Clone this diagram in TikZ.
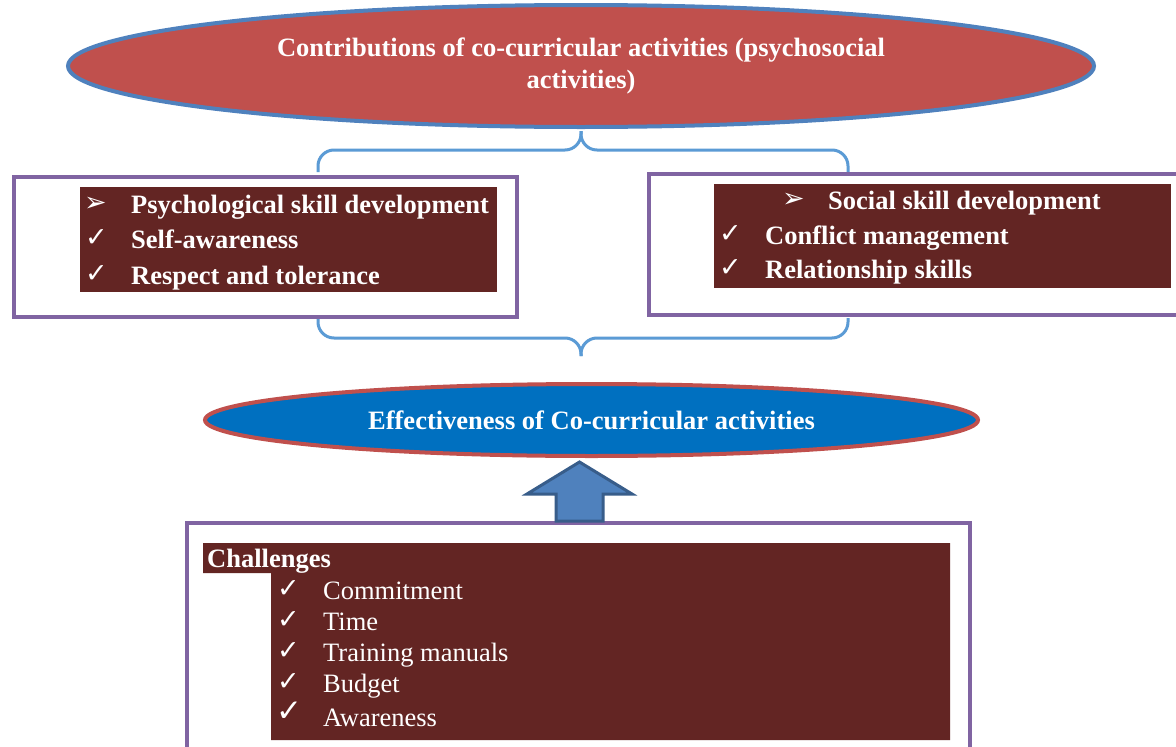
\documentclass[tikz,border=0pt]{standalone}
\usepackage{fontspec}
\setmainfont{Liberation Serif}
\newfontfamily\symfont{DejaVu Sans}
\usetikzlibrary{shapes.geometric}
\definecolor{topfill}{HTML}{C0504D}
\definecolor{topline}{HTML}{4F81BD}
\definecolor{darkred}{HTML}{632523}
\definecolor{purp}{HTML}{8064A2}
\definecolor{bracec}{HTML}{5B9BD5}
\definecolor{efffill}{HTML}{0070C0}
\definecolor{arrline}{HTML}{385D8A}
\tikzset{
  bigell/.style={ellipse, draw=topline, line width=4pt, fill=topfill, text=white, align=center, inner sep=0pt,
    font=\bfseries\fontsize{26.5}{32}\selectfont},
  effell/.style={ellipse, draw=topfill, line width=4pt, fill=efffill, text=white, inner sep=0pt,
    font=\bfseries\fontsize{26.5}{32}\selectfont},
  outerbox/.style={draw=purp, line width=4pt, fill=white},
  innerbox/.style={fill=darkred},
  btxt/.style={anchor=base west, inner sep=0pt, text=white, font=\bfseries\fontsize{26.5}{32}\selectfont},
  rtxt/.style={anchor=base west, inner sep=0pt, text=white, font=\fontsize{26.5}{32}\selectfont},
  symb/.style={anchor=base west, inner sep=0pt, text=white, font=\symfont\fontsize{27}{30}\selectfont},
  bracel/.style={draw=bracec, line width=3pt, rounded corners=16pt},
  blockarrow/.style={fill=topline, draw=arrline, line width=3pt, line join=miter}
}
\begin{document}
\begin{tikzpicture}[x=1pt,y=-1pt]
\clip (0,0) rectangle (1176,747);
\fill[white] (0,0) rectangle (1176,747);

% top ellipse
\node[bigell, minimum width=1026pt, minimum height=122pt] (top) at (581,66)
  {Contributions of co-curricular activities (psychosocial\\activities)};

% braces
\coordinate (tb) at (581,131);
\coordinate (tl) at (318,172);
\coordinate (tr) at (848,172);
\draw[bracel] (tl) -- (318,150) -- (581,150) -- (tb);
\draw[bracel] (tr) -- (848,150) -- (581,150) -- (tb);

\coordinate (bb) at (581,356);
\coordinate (bl) at (318,318);
\coordinate (br) at (848,318);
\draw[bracel] (bl) -- (318,338) -- (581,338) -- (bb);
\draw[bracel] (br) -- (848,338) -- (581,338) -- (bb);

% left box
\node[outerbox, anchor=north west, minimum width=503pt, minimum height=140pt, inner sep=0pt] (lbox) at (12,175) {};
\node[innerbox, anchor=north west, minimum width=417pt, minimum height=105pt, inner sep=0pt] (lin) at (80,187) {};
\node[symb] (l1s) at (84,211) {➢};
\node[btxt] (l1) at (131,213) {Psychological skill development};
\node[symb] (l2s) at (85,246) {✓};
\node[btxt] (l2) at (131,248) {Self-awareness};
\node[symb] (l3s) at (85,282) {✓};
\node[btxt] (l3) at (131,284) {Respect and tolerance};

% right box
\node[outerbox, anchor=north west, minimum width=560pt, minimum height=141pt, inner sep=0pt] (rbox) at (647,172) {};
\node[innerbox, anchor=north west, minimum width=457pt, minimum height=104pt, inner sep=0pt] (rin) at (714,184) {};
\node[symb] (r1s) at (782,207) {➢};
\node[btxt] (r1) at (828,209) {Social skill development};
\node[symb] (r2s) at (719,242) {✓};
\node[btxt] (r2) at (765,244) {Conflict management};
\node[symb] (r3s) at (719,276) {✓};
\node[btxt] (r3) at (765,278) {Relationship skills};

% effectiveness ellipse
\node[effell, minimum width=773pt, minimum height=72pt] (eff) at (591.5,420) {Effectiveness of Co-curricular activities};

% bottom box
\node[outerbox, anchor=north west, minimum width=783pt, minimum height=260pt, inner sep=0pt] (cbox) at (185,521) {};
\fill[darkred] (203,543) -- (950,543) -- (950,740) -- (271,740) -- (271,573) -- (203,573) -- cycle;
\node[btxt] (ch) at (207,567) {Challenges};
\node[symb] (c1s) at (277,597) {✓};
\node[rtxt] (c1) at (323,599) {Commitment};
\node[symb] (c2s) at (277,628) {✓};
\node[rtxt] (c2) at (323,630) {Time};
\node[symb] (c3s) at (277,659) {✓};
\node[rtxt] (c3) at (323,661) {Training manuals};
\node[symb] (c4s) at (277,690) {✓};
\node[rtxt] (c4) at (323,692) {Budget};
\node[symb, font=\symfont\fontsize{31}{34}\selectfont] (c5s) at (276,721) {✓};
\node[rtxt] (c5) at (323,726) {Awareness};

% block arrow from challenges box up to effectiveness
\draw[blockarrow] (556,521) -- (556,494) -- (527,494) -- (579.5,462) -- (632,494) -- (603,494) -- (603,521) -- cycle;
\end{tikzpicture}
\end{document}
